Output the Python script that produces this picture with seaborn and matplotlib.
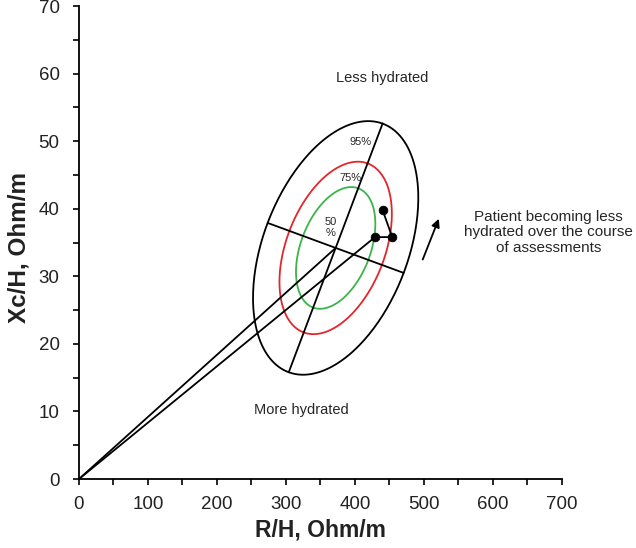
import numpy as np
import pandas as pd
import seaborn as sns
import matplotlib.pyplot as plt
from matplotlib.ticker import MultipleLocator

# Reference tolerance ellipse (R/H vs Xc/H)
center = [372, 34.2]
major_axis = [68, 18.4]      # half-axis vector towards "less hydrated"
minor_axis = [98.6, -3.7]    # half-axis vector towards the right
levels = ["95%", "75%", "50\n%"]
level_scale = [1.0, 0.68, 0.48]
level_colors = ["black", "#e3262b", "#3bb44a"]

# Patient assessments
rh = [429, 454, 440]
xch = [35.8, 35.8, 39.8]

sns.set_style("ticks")
plt.rcParams['font.family'] = ['Liberation Sans', 'DejaVu Sans']

fig = plt.figure(figsize=(6.36, 5.48), dpi=100)
ax = fig.add_axes([0.1242, 0.1259, 0.7594, 0.8631])

# ellipses
t = np.linspace(0, 2 * np.pi, 300)
for s, col in zip(level_scale, level_colors):
    ex = center[0] + s * (major_axis[0] * np.cos(t) + minor_axis[0] * np.sin(t))
    ey = center[1] + s * (major_axis[1] * np.cos(t) + minor_axis[1] * np.sin(t))
    ax.plot(ex, ey, color=col, lw=1.3)

# axes of the ellipse
for v in (major_axis, minor_axis):
    ax.plot([center[0] - v[0], center[0] + v[0]],
            [center[1] - v[1], center[1] + v[1]], color="black", lw=1.3)

# vectors from the origin
ax.plot([0, center[0]], [0, center[1]], color="black", lw=1.3)
ax.plot([0, rh[0]], [0, xch[0]], color="black", lw=1.3)

# patient path
df = pd.DataFrame({"R/H": rh, "Xc/H": xch})
sns.lineplot(data=df, x="R/H", y="Xc/H", sort=False, estimator=None,
             color="black", lw=1.3, ax=ax)
sns.scatterplot(data=df, x="R/H", y="Xc/H", color="black", s=40,
                edgecolor="black", zorder=5, ax=ax)

# labels in the plot
ax.text(408, 49.9, levels[0], fontsize=8, ha="center", va="center")
ax.text(393, 44.6, levels[1], fontsize=8, ha="center", va="center")
ax.text(365, 37.2, levels[2], fontsize=8, ha="center", va="center",
        linespacing=1.1)
ax.text(439, 59.3, "Less hydrated", fontsize=10.5, ha="center", va="center")
ax.text(323, 10.2, "More hydrated", fontsize=10.5, ha="center", va="center")
ax.text(681, 36.5, "Patient becoming less\nhydrated over the course\nof assessments",
        fontsize=11, ha="center", va="center", linespacing=1.15)
ax.annotate("", xy=(523, 38.9), xytext=(496.7, 32.1),
            arrowprops=dict(arrowstyle="-|>", color="black", lw=1.3,
                            mutation_scale=12))

ax.set_xlim(0, 700)
ax.set_ylim(0, 70)
ax.xaxis.set_major_locator(MultipleLocator(100))
ax.xaxis.set_minor_locator(MultipleLocator(50))
ax.yaxis.set_major_locator(MultipleLocator(10))
ax.yaxis.set_minor_locator(MultipleLocator(5))
ax.tick_params(which="both", length=4, width=1.2, color="black",
               labelsize=13.5, labelcolor="#222222")
ax.tick_params(axis="x", pad=8)
ax.tick_params(axis="y", pad=10)
sns.despine(ax=ax)
for sp in ("left", "bottom"):
    ax.spines[sp].set_linewidth(1.3)
    ax.spines[sp].set_color("black")

ax.set_xlabel("R/H, Ohm/m", fontsize=16.5, fontweight="bold", color="#222222")
ax.set_ylabel("Xc/H, Ohm/m", fontsize=17.5, fontweight="bold", color="#222222")
ax.yaxis.set_label_coords(-0.1, 0.489)

fig.savefig("out.png", dpi=100)
